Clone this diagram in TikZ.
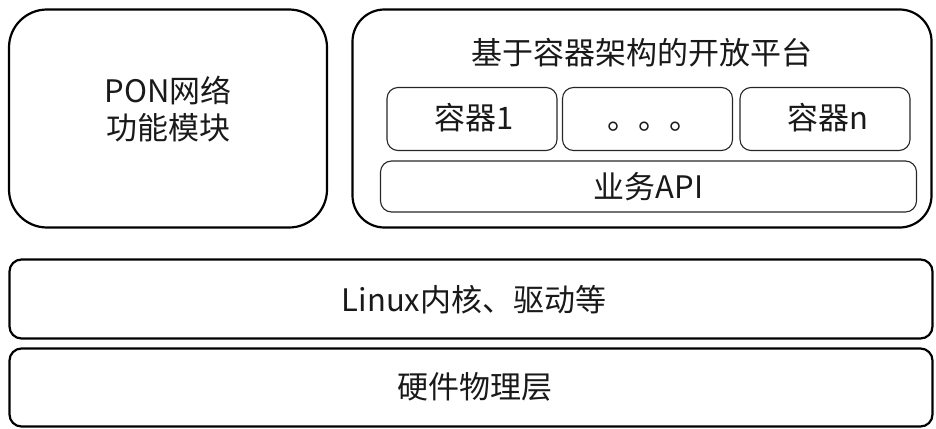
\documentclass[tikz,border=0pt]{standalone}
\usepackage{fontspec}
\setmainfont{Noto Sans CJK SC}
\begin{document}
\begin{tikzpicture}[x=1pt,y=-1pt,
  bigbox/.style={draw=black,line width=2.2pt,rounded corners=#1,inner sep=0pt},
  smallbox/.style={draw=black!85,line width=1.1pt,rounded corners=11pt,inner sep=0pt},
  lbl/.style={font=\fontsize{31}{37}\selectfont,text=black!90,inner sep=0pt}]
\useasboundingbox (0,0) rectangle (936,428);
\node[bigbox=38pt,minimum width=318pt,minimum height=218pt] (pon) at (168,118.5) {};
\node[lbl,align=center] (pontxt) at (168,109) {PON网络\\功能模块};
\node[bigbox=32pt,minimum width=579pt,minimum height=218pt] (plat) at (642,118.5) {};
\node[lbl] (title) at (642,53) {基于容器架构的开放平台};
\node[smallbox,minimum width=170pt,minimum height=63pt] (c1) at (472,119) {};
\node[lbl] (c1t) at (474,118) {容器1};
\node[smallbox,minimum width=170pt,minimum height=63pt] (cd) at (647.5,119) {};
\node[lbl] (cdt) at (654,127) {。。。};
\node[smallbox,minimum width=170pt,minimum height=63pt] (cn) at (825,119) {};
\node[lbl] (cnt) at (828,118) {容器n};
\node[smallbox,minimum width=536pt,minimum height=51pt] (api) at (648.5,186.5) {};
\node[lbl] (apit) at (648.5,187) {业务API};
\node[bigbox=12pt,minimum width=923pt,minimum height=79pt] (linux) at (471,299) {};
\node[lbl] (linuxt) at (474,300) {Linux内核、驱动等};
\node[bigbox=12pt,minimum width=923pt,minimum height=78pt] (hw) at (471,387.5) {};
\node[lbl] (hwt) at (475,387) {硬件物理层};
\end{tikzpicture}
\end{document}
